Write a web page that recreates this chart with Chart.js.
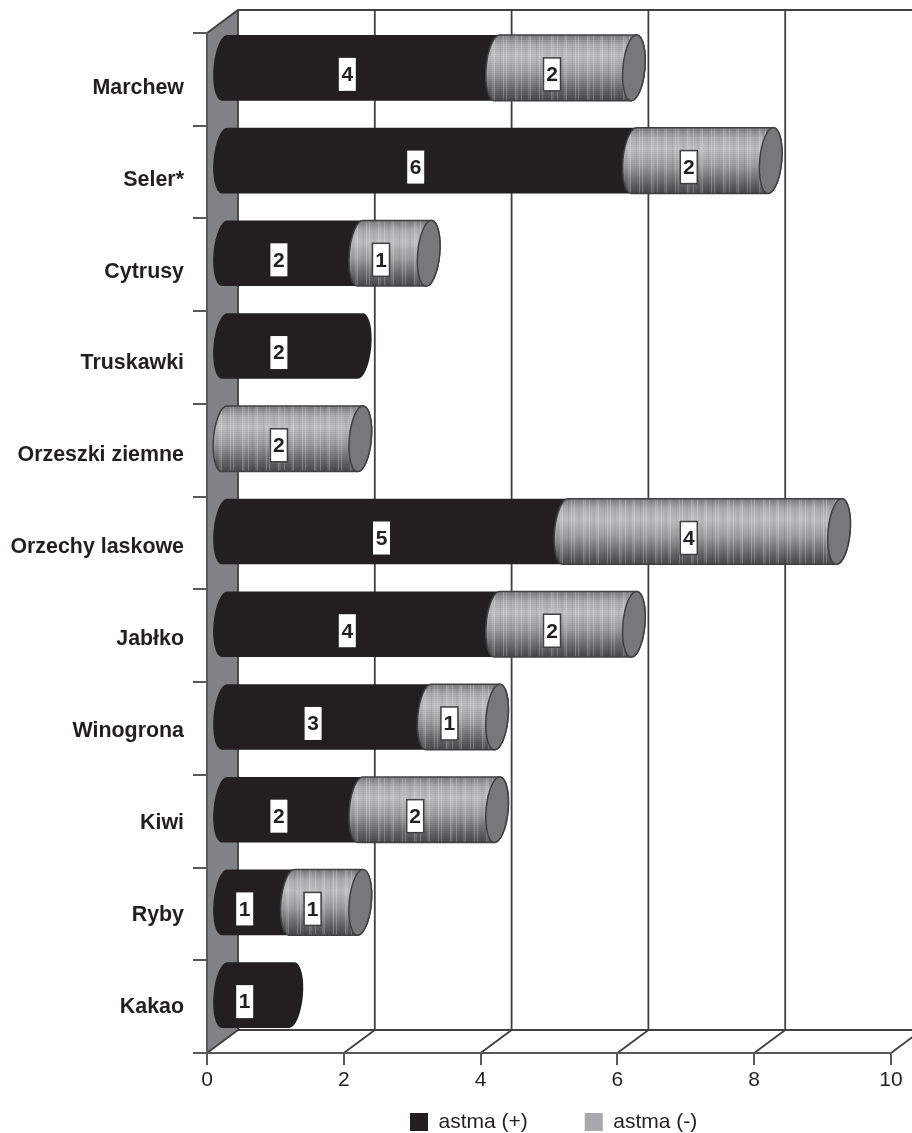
<!DOCTYPE html>
<html lang="pl">
<head>
  <meta charset="UTF-8">
  <title>astma</title>
  <script src="https://cdn.jsdelivr.net/npm/chart.js"></script>
  <style>
    html, body { margin: 0; padding: 0; background: #fff; }
    canvas { display: block; }
  </style>
</head>
<body>
  <canvas id="chart" width="912" height="1133"></canvas>
  <script>
    const categories = ['Marchew', 'Seler*', 'Cytrusy', 'Truskawki', 'Orzeszki ziemne', 'Orzechy laskowe', 'Jabłko', 'Winogrona', 'Kiwi', 'Ryby', 'Kakao'];
    const astmaPlus = [4, 6, 2, 2, 0, 5, 4, 3, 2, 1, 1];
    const astmaMinus = [2, 2, 1, 0, 2, 4, 2, 1, 2, 1, 0];
    const xTicks = [0, 2, 4, 6, 8, 10];

    const INK = '#231f20';
    const LINE = '#404041';
    const AXIS = '#58595b';

    // depth of the fake 3D box
    const DEPTH_X = 31, DEPTH_Y = -23;
    // bars sit in the middle of the box
    const BAR_X = 16.5, BAR_Y = -11.5;
    const CAP_RX = 11, CAP_TILT = 0.09;

    // repeating vertical stripes of the grey texture
    const stripeCycle = [1, 0, 0, -1, 0, 1, 1, 0, 0, 0, -1, 0, 1, 0, 1, 0, 0, -1, 0, 0, 1, 1, 0, 0];

    function capPath(ctx, x, y, ry) {
      ctx.beginPath();
      ctx.ellipse(x, y, CAP_RX, ry, CAP_TILT, 0, Math.PI * 2);
    }

    function bodyPath(ctx, a, b, y, ry) {
      ctx.beginPath();
      ctx.ellipse(b, y, CAP_RX, ry, CAP_TILT, -Math.PI / 2, Math.PI / 2);
      ctx.ellipse(a, y, CAP_RX, ry, CAP_TILT, Math.PI / 2, Math.PI * 1.5);
      ctx.closePath();
    }

    function texture(ctx, from, to, top, bottom) {
      for (let x = Math.floor(from), i = 0; x < to; x += 1.5, i++) {
        const s = stripeCycle[i % stripeCycle.length];
        if (s === 0) continue;
        ctx.fillStyle = s > 0 ? 'rgba(255,255,255,0.24)' : 'rgba(0,0,0,0.07)';
        ctx.fillRect(x, top, 1, bottom - top);
      }
      ctx.fillStyle = 'rgba(0,0,0,0.06)';
      for (let y = top; y < bottom; y += 2) ctx.fillRect(from, y, to - from, 1);
    }

    function drawDark(ctx, a, b, y, ry, color) {
      ctx.fillStyle = color;
      bodyPath(ctx, a, b, y, ry);
      ctx.fill();
    }

    function drawTextured(ctx, a, b, y, ry) {
      const top = y - ry, bottom = y + ry;
      const g = ctx.createLinearGradient(0, top, 0, bottom);
      g.addColorStop(0, '#7d7d7f');
      g.addColorStop(0.15, '#b0b0b2');
      g.addColorStop(0.32, '#c2c2c4');
      g.addColorStop(0.58, '#a0a0a2');
      g.addColorStop(0.85, '#666668');
      g.addColorStop(1, '#4a4a4c');

      ctx.save();
      bodyPath(ctx, a, b, y, ry);
      ctx.fillStyle = g;
      ctx.fill();
      ctx.clip();
      texture(ctx, a - CAP_RX - 1, b + CAP_RX + 1, top, bottom);
      ctx.restore();

      ctx.strokeStyle = LINE;
      ctx.lineWidth = 1.5;
      bodyPath(ctx, a, b, y, ry);
      ctx.stroke();

      // end cap
      capPath(ctx, b, y, ry);
      ctx.fillStyle = '#77787a';
      ctx.fill();
      ctx.stroke();
    }

    const box3d = {
      id: 'box3d',
      beforeDraw(chart) {
        const { ctx, chartArea: area, scales } = chart;
        const x0 = scales.x.getPixelForValue(0);
        ctx.save();
        // left wall
        ctx.fillStyle = '#808285';
        ctx.beginPath();
        ctx.moveTo(x0, area.top);
        ctx.lineTo(x0 + DEPTH_X, area.top + DEPTH_Y);
        ctx.lineTo(x0 + DEPTH_X, area.bottom + DEPTH_Y);
        ctx.lineTo(x0, area.bottom);
        ctx.closePath();
        ctx.fill();

        ctx.strokeStyle = LINE;
        ctx.lineWidth = 1.8;
        ctx.beginPath();
        ctx.moveTo(x0, area.top);
        ctx.lineTo(x0 + DEPTH_X, area.top + DEPTH_Y);
        // back wall frame
        ctx.lineTo(chart.width, area.top + DEPTH_Y);
        ctx.moveTo(x0 + DEPTH_X, area.bottom + DEPTH_Y);
        ctx.lineTo(chart.width, area.bottom + DEPTH_Y);
        xTicks.forEach(v => {
          const x = scales.x.getPixelForValue(v);
          ctx.moveTo(x, area.bottom);
          ctx.lineTo(x + DEPTH_X, area.bottom + DEPTH_Y);
          ctx.lineTo(x + DEPTH_X, area.top + DEPTH_Y);
        });
        ctx.stroke();
        ctx.restore();
      },
      beforeDatasetsDraw(chart) {
        const { ctx } = chart;
        const sets = chart.data.datasets;
        ctx.save();
        // cylinders, first series first so that the next one overlaps its end
        categories.forEach((_, i) => {
          sets.forEach((ds, d) => {
            if (!ds.data[i]) return;
            const bar = chart.getDatasetMeta(d).data[i];
            const a = bar.base + BAR_X, b = bar.x + BAR_X;
            const y = bar.y + BAR_Y, ry = bar.height / 2;
            if (d === 0) drawDark(ctx, a, b, y, ry, ds.backgroundColor);
            else drawTextured(ctx, a, b, y, ry);
          });
        });
        // value boxes
        ctx.font = 'bold 21px "Liberation Sans"';
        ctx.textAlign = 'center';
        ctx.textBaseline = 'middle';
        sets.forEach((ds, d) => {
          ds.data.forEach((v, i) => {
            if (!v) return;
            const bar = chart.getDatasetMeta(d).data[i];
            const cx = (bar.base + bar.x) / 2 + 3;
            const cy = bar.y - 5;
            ctx.fillStyle = '#fff';
            ctx.fillRect(cx - 8.5, cy - 16.5, 17, 33);
            if (d === 1) {
              ctx.strokeStyle = LINE;
              ctx.lineWidth = 1.5;
              ctx.strokeRect(cx - 8.5, cy - 16.5, 17, 33);
            }
            ctx.fillStyle = INK;
            ctx.fillText(String(v), cx, cy + 1);
          });
        });
        ctx.restore();
        return false;
      },
      afterLayout(chart) {
        // legend sits under the right half of the plot
        const lg = chart.legend;
        const pad = lg.options.labels.padding;
        lg.left = 410 - pad;
        lg.right = lg.left + 420;
        lg.top = 1111.5 - pad;
        lg.bottom = chart.height;
        // category names creep up slowly against the bands in the original
        chart.scales.y.getLabelItems().forEach((item, i) => {
          item.options.translation[1] += (categories.length - 1 - i) * 0.85;
        });
      }
    };

    Chart.defaults.font.family = '"Liberation Sans", Arial, sans-serif';
    Chart.defaults.color = INK;

    new Chart(document.getElementById('chart'), {
      type: 'bar',
      data: {
        labels: categories,
        datasets: [
          { label: 'astma (+)', data: astmaPlus, backgroundColor: INK },
          { label: 'astma (-)', data: astmaMinus, backgroundColor: '#a7a9ac' }
        ]
      },
      options: {
        indexAxis: 'y',
        responsive: false,
        animation: false,
        categoryPercentage: 1,
        barPercentage: 0.71,
        layout: { padding: { top: 33, right: 21, left: 0, bottom: 0 } },
        scales: {
          x: {
            stacked: true,
            min: 0,
            max: 10,
            afterBuildTicks(scale) { scale.ticks = xTicks.map(value => ({ value })); },
            afterFit(scale) { scale.height = 79; },
            grid: { drawOnChartArea: false, color: AXIS, lineWidth: 2, tickLength: 12 },
            border: { color: AXIS, width: 2 },
            ticks: { font: { size: 21 }, color: INK, padding: 3, maxRotation: 0 }
          },
          y: {
            stacked: true,
            afterFit(scale) { scale.width = 207; },
            grid: { drawOnChartArea: false, color: AXIS, lineWidth: 2, tickLength: 14 },
            border: { color: AXIS, width: 2 },
            ticks: { font: { size: 21.4, weight: 'bold' }, color: INK, padding: 9, autoSkip: false }
          }
        },
        plugins: {
          title: { display: false },
          tooltip: { enabled: false },
          legend: {
            position: 'bottom',
            align: 'start',
            maxHeight: 1,
            labels: { boxWidth: 18, boxHeight: 18, padding: 57, font: { size: 21 }, color: INK }
          }
        }
      },
      plugins: [box3d]
    });
  </script>
</body>
</html>
